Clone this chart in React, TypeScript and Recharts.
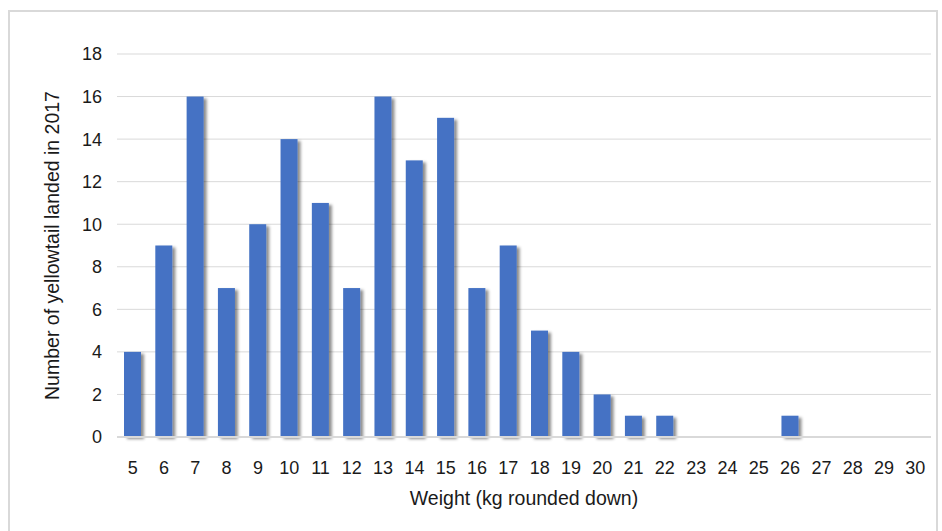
import { BarChart, Bar, XAxis, YAxis, CartesianGrid, Label } from "recharts"

const weights = ["5", "6", "7", "8", "9", "10", "11", "12", "13", "14", "15", "16", "17", "18", "19", "20", "21", "22", "23", "24", "25", "26", "27", "28", "29", "30"]
const counts = [4, 9, 16, 7, 10, 14, 11, 7, 16, 13, 15, 7, 9, 5, 4, 2, 1, 1, 0, 0, 0, 1, 0, 0, 0, 0]
const yTicks = [0, 2, 4, 6, 8, 10, 12, 14, 16, 18]

const chartData = weights.map((w, i) => ({ weight: w, count: counts[i] }))

const font = "'Liberation Sans', Arial, sans-serif"

const ShadowBar = (props: any) => {
  const { x, y, width, height, fill } = props
  if (!height || height <= 0) return null
  return <rect x={x} y={y} width={width} height={height} fill={fill} filter="url(#barShadow)" />
}

export default function App() {
  return (
    <div style={{ position: "absolute", left: 0, top: 0, width: 942, height: 531, background: "#fff", overflow: "hidden" }}>
      <div
        style={{
          position: "absolute",
          left: 8,
          top: 10,
          width: 930,
          height: 530,
          border: "2px solid #d9d9d9",
          boxSizing: "border-box",
        }}
      />
      <div style={{ position: "absolute", left: 0, top: 0 }}>
        <BarChart
          width={942}
          height={531}
          data={chartData}
          margin={{ top: 54, right: 11, left: 57, bottom: 64 }}
          barSize={17}
        >
          <defs>
            <filter id="barShadow" x="-30%" y="-10%" width="170%" height="130%">
              <feDropShadow dx={3} dy={2} stdDeviation={1.8} floodColor="#000" floodOpacity={0.45} />
            </filter>
          </defs>
          <CartesianGrid vertical={false} stroke="#d9d9d9" strokeWidth={1} />
          <XAxis
            dataKey="weight"
            height={30}
            tickLine={false}
            axisLine={{ stroke: "#d9d9d9", strokeWidth: 2 }}
            tickMargin={18}
            interval={0}
            tick={{ fontFamily: font, fontSize: 18, fill: "#1a1a1a" }}
          >
            <Label
              content={({ viewBox }: any) => (
                <text
                  x={viewBox.x + viewBox.width / 2}
                  y={505}
                  textAnchor="middle"
                  fontFamily={font}
                  fontSize={19.5}
                  fill="#1a1a1a"
                >
                  Weight (kg rounded down)
                </text>
              )}
            />
          </XAxis>
          <YAxis
            width={60}
            domain={[0, 18]}
            ticks={yTicks}
            interval={0}
            tickLine={false}
            axisLine={false}
            tickMargin={9}
            tick={{ fontFamily: font, fontSize: 18, fill: "#1a1a1a" }}
          >
            <Label
              content={({ viewBox }: any) => {
                const cy = viewBox.y + viewBox.height / 2
                return (
                  <text
                    x={59}
                    y={cy}
                    transform={`rotate(-90 59 ${cy})`}
                    textAnchor="middle"
                    fontFamily={font}
                    fontSize={19.5}
                    fill="#1a1a1a"
                  >
                    Number of yellowtail landed in 2017
                  </text>
                )
              }}
            />
          </YAxis>
          <Bar dataKey="count" fill="#4472c4" shape={ShadowBar} isAnimationActive={false} />
        </BarChart>
      </div>
    </div>
  )
}
